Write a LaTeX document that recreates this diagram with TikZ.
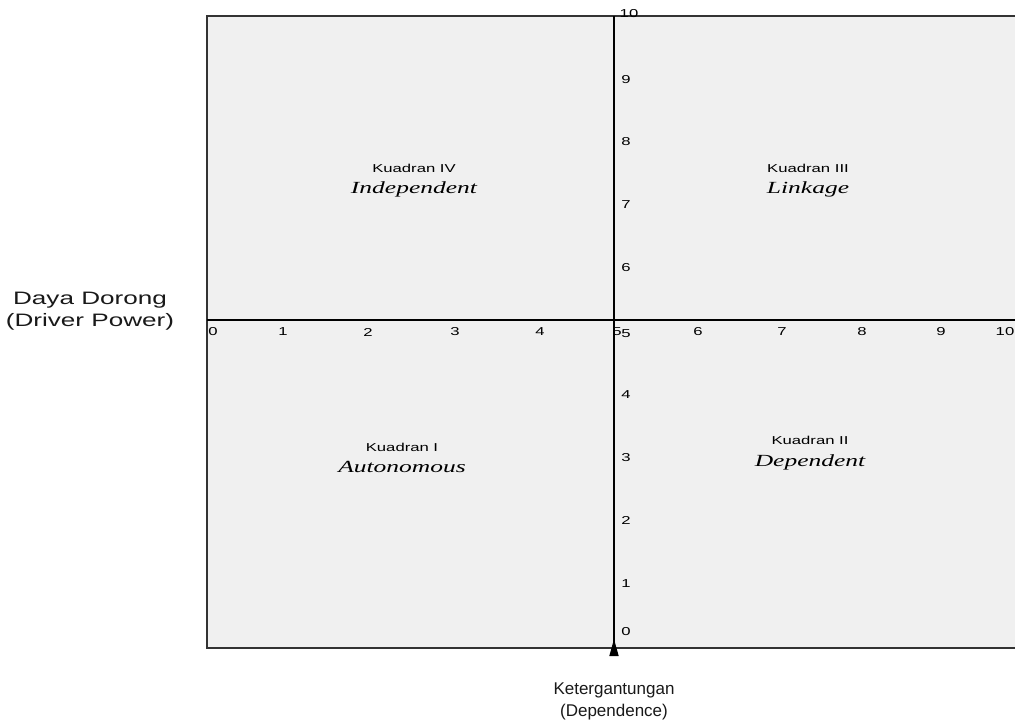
\documentclass[tikz,border=0pt]{standalone}
\usepackage{fontspec}
\setmainfont{Liberation Sans}
\newfontfamily\sidefont[FakeStretch=1.45]{Liberation Sans}
\newfontfamily\smallfont[FakeStretch=1.45]{Liberation Sans}
\newfontfamily\quadfont[FakeStretch=1.5]{Liberation Serif}
\usetikzlibrary{arrows.meta, positioning}

\definecolor{panelgray}{HTML}{F0F0F0}
\definecolor{linegray}{HTML}{333333}

\begin{document}
\begin{tikzpicture}[
    x=1pt, y=-1pt,
    panel/.style={draw=linegray, line width=1.3pt, fill=panelgray},
    axis/.style={draw=black, line width=1.6pt},
    tick/.style={inner sep=0pt, font=\smallfont\fontsize{11.5}{13}\selectfont, text=black},
    quadnum/.style={inner sep=0pt, font=\smallfont\fontsize{11.5}{13}\selectfont, text=black},
    quadname/.style={inner sep=0pt, font=\quadfont\itshape\fontsize{17}{19}\selectfont, text=black},
    sidelabel/.style={align=center, inner sep=0pt, font=\sidefont\fontsize{18}{22}\selectfont, text=black!90},
    botlabel/.style={align=center, inner sep=0pt, font=\fontsize{17}{22}\selectfont, text=black!90}
]
\useasboundingbox (0,0) rectangle (1015,724);
\clip (0,0) rectangle (1015,724);

% matrix panel
\draw[panel] (207,16) rectangle (1022,648);

\coordinate (xleft) at (207,320);
\coordinate (xright) at (1022,320);
\coordinate (ytop) at (614,16);
\coordinate (ybot) at (614,656);
\draw[axis] (xleft) -- (xright);
\draw[axis, {Triangle[length=17pt, width=9pt, reversed]}-] (ybot) -- (ytop);

% axis numbers
\foreach \n/\xp in {0/213, 1/283, 2/368, 3/455, 4/540, 5/617, 6/698, 7/782, 8/862, 9/941, 10/1005}
    \node[tick] (h\n) at (\xp,332) {\n};
\foreach \n/\yp in {0/632, 1/584, 2/520, 3/458, 4/395, 5/334, 6/268, 7/205, 8/142, 9/80}
    \node[tick] (v\n) at (626,\yp) {\n};
\node[tick] (v10) at (629,14) {10};

% quadrants
\node[quadnum] (q4) at (414,168) {Kuadran IV};
\node[quadname] (q4name) at (414,189) {Independent};
\node[quadnum] (q3) at (808,168) {Kuadran III};
\node[quadname] (q3name) at (808,189) {Linkage};
\node[quadnum] (q1) at (402,447) {Kuadran I};
\node[quadname] (q1name) at (402,467) {Autonomous};
\node[quadnum] (q2) at (810,440) {Kuadran II};
\node[quadname] (q2name) at (810,462) {Dependent};

% axis titles
\node[sidelabel] (driver) at (90,311) {Daya Dorong\\(Driver Power)};
\node[botlabel] (depend) at (614,701) {Ketergantungan\\(Dependence)};
\end{tikzpicture}
\end{document}
